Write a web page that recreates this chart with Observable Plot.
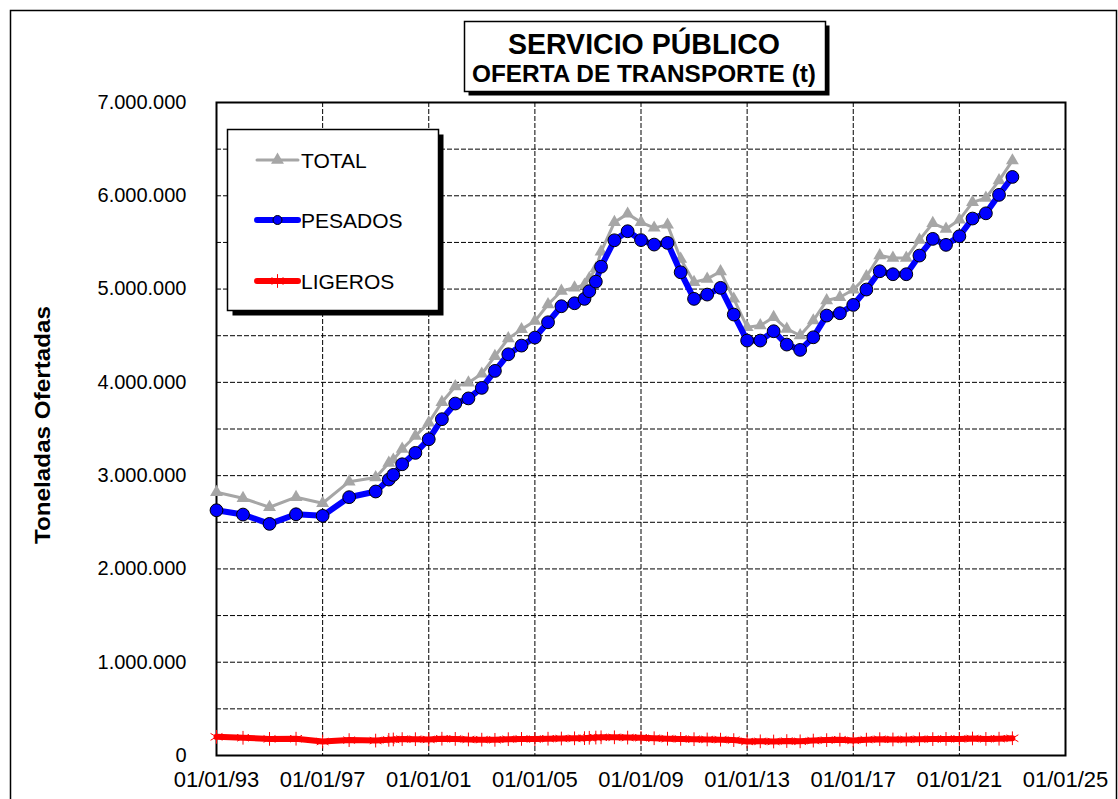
<!DOCTYPE html>
<html>
<head>
<meta charset="utf-8">
<script src="https://cdn.jsdelivr.net/npm/d3@7"></script>
<script src="https://cdn.jsdelivr.net/npm/@observablehq/plot@0.6"></script>
<style>
  html, body { margin: 0; padding: 0; background: #fff; }
  #chart { position: relative; width: 1118px; height: 799px; overflow: hidden; }
  svg { font-family: "Liberation Sans", Arial, sans-serif; }
</style>
</head>
<body>
<div id="chart"></div>
<script>
// ---- data (values in thousands of tonnes) ----
const dates = [
  "1993-01-01","1994-01-01","1995-01-01","1996-01-01","1997-01-01","1998-01-01","1999-01-01",
  "1999-07-01","1999-09-01",
  "2000-01-01","2000-07-01","2001-01-01","2001-07-01","2002-01-01","2002-07-01","2003-01-01",
  "2003-07-01","2004-01-01","2004-07-01","2005-01-01","2005-07-01","2006-01-01","2006-07-01",
  "2006-11-15","2007-01-20","2007-04-20","2007-07-01",
  "2008-01-01","2008-07-01","2009-01-01","2009-07-01","2010-01-01","2010-07-01","2011-01-01",
  "2011-07-01","2012-01-01","2012-07-01","2013-01-01","2013-07-01","2014-01-01","2014-07-01",
  "2015-01-01","2015-07-01","2016-01-01","2016-07-01","2017-01-01","2017-07-01","2018-01-01",
  "2018-07-01","2019-01-01","2019-07-01","2020-01-01","2020-07-01","2021-01-01","2021-07-01",
  "2022-01-01","2022-07-01","2023-01-01"
];
const total = [
  2822,2758,2661,2769,2704,2935,2980,
  3135,3169,
  3285,3425,3568,3787,3955,3995,4091,
  4280,4470,4568,4657,4835,4980,5015,
  5045,5115,5220,5400,
  5716,5806,5716,5656,5688,5323,5073,
  5109,5188,4895,4591,4609,4698,4573,
  4502,4662,4877,4912,4993,5135,5359,
  5334,5334,5527,5705,5645,5742,5930,
  5977,6163,6377
];
const pesados = [
  2629,2583,2483,2586,2569,2769,2830,
  2958,3008,
  3122,3244,3390,3605,3773,3828,3941,
  4123,4301,4394,4480,4644,4816,4848,
  4895,4977,5080,5240,
  5523,5620,5525,5477,5495,5180,4895,
  4941,5013,4727,4448,4448,4548,4405,
  4348,4483,4716,4741,4830,4995,5191,
  5159,5159,5359,5538,5474,5566,5756,
  5812,6010,6202
];
const ligeros = [
  200,190,178,180,150,165,160,
  168,172,
  176,175,172,180,178,172,170,
  168,175,178,176,180,182,184,
  186,190,192,195,
  195,192,190,185,180,178,175,
  172,170,165,150,152,150,155,
  152,160,165,170,162,170,175,
  172,172,175,176,178,178,182,
  178,180,185
];
const xTickYears = [1993,1997,2001,2005,2009,2013,2017,2021,2025];
const yTicks = [0,1000000,2000000,3000000,4000000,5000000,6000000,7000000];
const yGrid = [500000,1000000,1500000,2000000,2500000,3000000,3500000,4000000,4500000,5000000,5500000,6000000,6500000];
const seriesNames = ["TOTAL","PESADOS","LIGEROS"];

// ---- build tables ----
const parse = d3.utcParse("%Y-%m-%d");
const rows = vals => dates.map((d, i) => ({date: parse(d), value: vals[i] * 1000}));
const totalRows = rows(total), pesRows = rows(pesados), ligRows = rows(ligeros);
const xTicks = xTickYears.map(y => new Date(Date.UTC(y, 0, 1)));
const fmtY = d => d3.format(",")(d).replace(/,/g, ".");
const fmtX = d3.utcFormat("%d/%m/%y");

const W = 1118, H = 799;
const plot = Plot.plot({
  width: W, height: H,
  marginLeft: 216, marginRight: 53, marginTop: 102, marginBottom: 44,
  style: {fontFamily: "'Liberation Sans', Arial, sans-serif", color: "#000", background: "transparent", overflow: "visible"},
  x: {type: "utc", domain: [xTicks[0], xTicks[xTicks.length - 1]]},
  y: {domain: [0, 7000000]},
  marks: [
    Plot.gridY(yGrid, {stroke: "#000", strokeOpacity: 1, strokeWidth: 1, strokeDasharray: "5,2"}),
    Plot.gridX(xTicks, {stroke: "#000", strokeOpacity: 1, strokeWidth: 1, strokeDasharray: "5,2"}),
    Plot.axisY(yTicks, {tickSize: 0, tickPadding: 30, tickFormat: fmtY, fontSize: 20, label: null}),
    Plot.axisX(xTicks, {tickSize: 0, tickPadding: 16, tickFormat: fmtX, fontSize: 22, label: null}),
    Plot.frame({stroke: "#000", strokeWidth: 2}),
    Plot.line(totalRows, {x: "date", y: "value", stroke: "#a6a6a6", strokeWidth: 3}),
    Plot.dot(totalRows, {x: "date", y: "value", symbol: "triangle", fill: "#a6a6a6", r: 4.8}),
    Plot.line(pesRows, {x: "date", y: "value", stroke: "#0000ff", strokeWidth: 6}),
    Plot.dot(pesRows, {x: "date", y: "value", symbol: "circle", fill: "#0000ff", stroke: "#000", strokeWidth: 1, r: 6.4}),
    Plot.line(ligRows, {x: "date", y: "value", stroke: "#ff0000", strokeWidth: 6}),
    Plot.dot(ligRows, {x: "date", y: "value", symbol: "asterisk", stroke: "#ff0000", strokeWidth: 1, r: 6.5})
  ]
});
document.getElementById("chart").appendChild(plot);

// ---- decorations: outer border, y label, title box, legend ----
const svg = d3.select(plot);
svg.insert("rect", ":first-child").attr("x", 0).attr("y", 0).attr("width", W).attr("height", H).attr("fill", "#fff");
svg.append("rect").attr("x", 10.5).attr("y", 10.5).attr("width", W - 12).attr("height", H + 20)
  .attr("fill", "none").attr("stroke", "#000").attr("stroke-width", 1.5);

svg.append("text").attr("transform", "translate(50,425) rotate(-90)")
  .attr("text-anchor", "middle").attr("font-size", 22).attr("font-weight", "bold")
  .attr("textLength", 238).attr("lengthAdjust", "spacingAndGlyphs")
  .text("Toneladas Ofertadas");

// title box
const tb = {x: 464.5, y: 21.5, w: 361, h: 70};
svg.append("rect").attr("x", tb.x + 4).attr("y", tb.y + 4).attr("width", tb.w).attr("height", tb.h).attr("fill", "#000");
svg.append("rect").attr("x", tb.x).attr("y", tb.y).attr("width", tb.w).attr("height", tb.h)
  .attr("fill", "#fff").attr("stroke", "#000").attr("stroke-width", 1.5);
svg.append("text").attr("x", 644).attr("y", 54).attr("text-anchor", "middle")
  .attr("font-size", 29).attr("font-weight", "bold")
  .attr("textLength", 272).attr("lengthAdjust", "spacingAndGlyphs").text("SERVICIO PÚBLICO");
svg.append("text").attr("x", 644).attr("y", 82).attr("text-anchor", "middle")
  .attr("font-size", 23).attr("font-weight", "bold")
  .attr("textLength", 344).attr("lengthAdjust", "spacingAndGlyphs").text("OFERTA DE TRANSPORTE (t)");

// legend box
const lb = {x: 227.5, y: 129.5, w: 211, h: 181};
svg.append("rect").attr("x", lb.x + 5).attr("y", lb.y + 5).attr("width", lb.w).attr("height", lb.h).attr("fill", "#000");
svg.append("rect").attr("x", lb.x).attr("y", lb.y).attr("width", lb.w).attr("height", lb.h)
  .attr("fill", "#fff").attr("stroke", "#000").attr("stroke-width", 1.5);
const legY = [160, 220, 281];
const legCol = ["#a6a6a6", "#0000ff", "#ff0000"];
const legW = [3, 6, 6];
seriesNames.forEach((name, i) => {
  const g = svg.append("g");
  g.append("line").attr("x1", 257).attr("x2", 298).attr("y1", legY[i]).attr("y2", legY[i])
    .attr("stroke", legCol[i]).attr("stroke-width", legW[i]).attr("stroke-linecap", "round");
  const sym = [d3.symbolTriangle, d3.symbolCircle, d3.symbolAsterisk][i];
  const r = [4.8, 4.5, 6.5][i];
  g.append("path").attr("transform", `translate(277.5,${legY[i]})`)
    .attr("d", d3.symbol(sym, Math.PI * r * r)())
    .attr("fill", i === 2 ? "none" : legCol[i])
    .attr("stroke", i === 1 ? "#000" : (i === 2 ? "#ff0000" : "none")).attr("stroke-width", 1);
  g.append("text").attr("x", 301).attr("y", legY[i] + 7.5).attr("text-anchor", "start")
    .attr("font-size", 21).text(name);
});
</script>
</body>
</html>
